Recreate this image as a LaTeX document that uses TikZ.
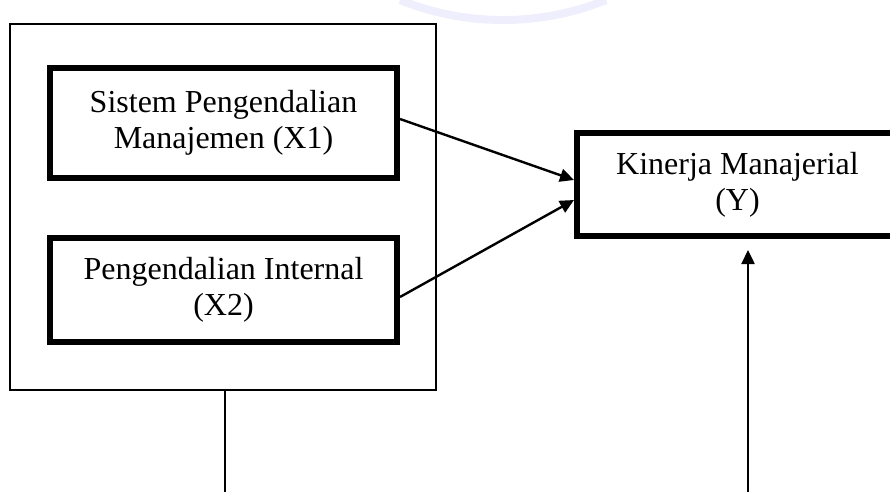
\documentclass[tikz,border=0pt]{standalone}
\usepackage{fontspec}
\setmainfont{Liberation Serif}
\usetikzlibrary{arrows.meta}
\begin{document}
\begin{tikzpicture}[x=1pt,y=-1pt,
  varbox/.style={draw, line width=6pt, inner sep=0pt, align=center,
    font=\fontsize{32}{36}\selectfont},
  groupbox/.style={draw, line width=1.6pt, inner sep=0pt},
  link/.style={line width=2.4pt, -{Triangle[length=14pt,width=13pt]}},
  plainline/.style={line width=2pt}]
\useasboundingbox (0,0) rectangle (890,492);
\clip (0,0) rectangle (890,492);

% faint watermark arc
\draw[line width=8pt, color={rgb,255:red,238;green,238;blue,252}]
  (400,0) arc[start angle=112, end angle=68, radius=275];

% grouping frame round the two independent variables
\node[groupbox, minimum width=426pt, minimum height=366pt] (grp) at (223,207) {};

% variables
\node[varbox, minimum width=347pt, minimum height=110pt] (x1) at (223.5,123)
  {Sistem Pengendalian\\Manajemen (X1)};
\node[varbox, minimum width=347pt, minimum height=104pt] (x2) at (223.5,290)
  {Pengendalian Internal\\(X2)};
\node[varbox, minimum width=321pt, minimum height=103pt] (y) at (737.5,184.5)
  {Kinerja Manajerial\\(Y)};

% partial effects
\draw[link] ([yshift=4pt]x1.east) -- ([yshift=4.5pt]y.west);
\draw[link] ([yshift=-7pt]x2.east) -- ([yshift=-15.5pt]y.west);

% simultaneous effect
\coordinate (b1) at (225,492);
\coordinate (b2) at (748,492);
\draw[plainline] (grp.south -| b1) -- (b1);
\draw[link, shorten >=11pt] (b2) -- (b2 |- y.south);
\end{tikzpicture}
\end{document}
